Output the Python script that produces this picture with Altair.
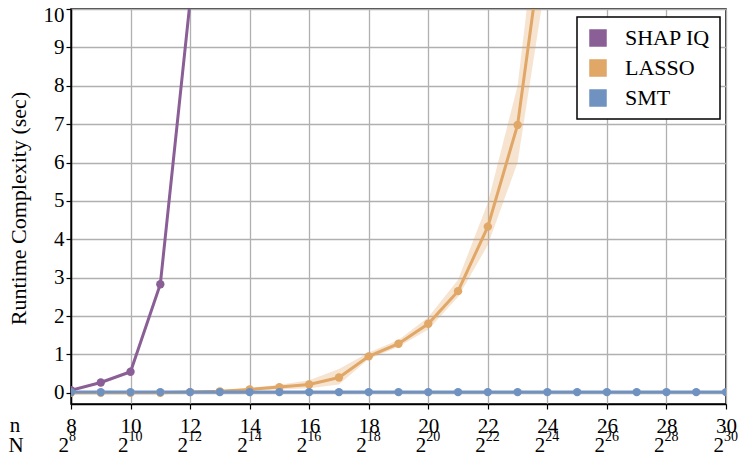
import altair as alt
import pandas as pd

# ---- data ----
n_vals = list(range(8, 31))
shap_n = [8, 9, 10, 11, 12]
shap_y = [0.07, 0.27, 0.55, 2.83, 10.2]
lasso_n = list(range(8, 25))
lasso_y = [0.0, 0.0, 0.0, 0.0, 0.02, 0.04, 0.09, 0.15, 0.22, 0.40, 0.95, 1.28, 1.80, 2.65, 4.33, 6.98, 12.7]
lasso_lo = [0.0, 0.0, 0.0, 0.0, 0.0, 0.02, 0.05, 0.09, 0.12, 0.22, 0.88, 1.20, 1.65, 2.50, 3.85, 6.00, 11.0]
lasso_hi = [0.0, 0.0, 0.0, 0.0, 0.04, 0.07, 0.13, 0.21, 0.33, 0.62, 1.05, 1.38, 1.97, 2.95, 4.95, 8.00, 14.5]
smt_y = [0.02] * len(n_vals)
tick_n = list(range(8, 31, 2))
series_names = ["SHAP IQ", "LASSO", "SMT"]
series_colors = ["#8A5F96", "#E0A767", "#7092C1"]

FONT = "Liberation Serif"
FS = 21

rows = []
for n, y in zip(shap_n, shap_y):
    rows.append({"n": n, "y": y, "method": "SHAP IQ"})
for n, y in zip(lasso_n, lasso_y):
    rows.append({"n": n, "y": y, "method": "LASSO"})
for n, y in zip(n_vals, smt_y):
    rows.append({"n": n, "y": y, "method": "SMT"})
df = pd.DataFrame(rows)
band = pd.DataFrame({"n": lasso_n, "y": lasso_lo, "hi": lasso_hi})
ticks = pd.DataFrame({"n": tick_n, "base": ["2"] * len(tick_n), "exp": [str(t) for t in tick_n]})

xscale = alt.Scale(domain=[8, 30], nice=False, zero=False)
yscale = alt.Scale(domain=[-0.29, 10], nice=False, zero=False)
x_axis = alt.Axis(values=tick_n, title=None, labelFont=FONT, labelFontSize=FS,
                  labelColor="black", domainColor="black", domainWidth=1.5,
                  tickColor="black", tickSize=5, tickWidth=1.2, labelPadding=6,
                  gridColor="#b0b0b0", gridWidth=1.3, labelFlush=False)
y_axis = alt.Axis(values=list(range(0, 11)), title="Runtime Complexity (sec)",
                  titleFont=FONT, titleFontSize=22, titleFontWeight="normal",
                  titleColor="black", titleX=-53, titleY=199, titleAlign="center",
                  titleBaseline="middle", titleAngle=270,
                  labelFont=FONT, labelFontSize=FS, labelColor="black",
                  labelFlush=True, labelFlushOffset=5,
                  domainColor="black", domainWidth=1.5, tickColor="black",
                  tickSize=5, tickWidth=1.2, gridColor="#b0b0b0", gridWidth=1.3)
X = alt.X("n:Q", scale=xscale, axis=x_axis)
Y = alt.Y("y:Q", scale=yscale, axis=y_axis)

cscale = alt.Scale(domain=series_names, range=series_colors)
color = alt.Color("method:N", scale=cscale, sort=series_names,
                  legend=alt.Legend(title=None, orient="none", legendX=506, legendY=8,
                                    symbolType="square", symbolSize=256, symbolStrokeColor="black",
                                    symbolStrokeWidth=1.5, symbolOpacity=1,
                                    labelFont=FONT, labelFontSize=22, labelColor="black",
                                    rowPadding=8, padding=10, strokeColor="black",
                                    fillColor="white", cornerRadius=0, labelOffset=16))

band_layer = alt.Chart(band).mark_area(color="#E0A767", opacity=0.3, clip=True).encode(
    x=X, y=Y, y2="hi:Q")

lines = alt.Chart(df).mark_line(strokeWidth=3, clip=True).encode(
    x=X, y=Y, color=color, order=alt.Order("n:Q"))
points = alt.Chart(df).mark_circle(size=70, opacity=1, clip=True).encode(
    x=X, y=Y, color=alt.Color("method:N", scale=cscale, sort=series_names, legend=None))

base2 = alt.Chart(ticks).mark_text(font=FONT, fontSize=FS, baseline="alphabetic", align="right",
                                   dx=-2, color="black").encode(
    x=X, y=alt.value(443), text="base:N")
exp2 = alt.Chart(ticks).mark_text(font=FONT, fontSize=14, baseline="alphabetic", align="left",
                                  dx=-2, color="black").encode(
    x=X, y=alt.value(432), text="exp:N")
row_n = alt.Chart(pd.DataFrame({"t": ["n"]})).mark_text(font=FONT, fontSize=FS, baseline="alphabetic",
                                                        align="center", color="black").encode(
    x=alt.value(-56), y=alt.value(423), text="t:N")
row_N = alt.Chart(pd.DataFrame({"t": ["N"]})).mark_text(font=FONT, fontSize=FS, baseline="alphabetic",
                                                        align="center", color="black").encode(
    x=alt.value(-55), y=alt.value(443), text="t:N")

chart = alt.layer(band_layer, lines, points, base2, exp2, row_n, row_N).properties(
    width=655, height=395,
    autosize=alt.AutoSizeParams(type="none"),
    padding={"left": 63, "top": 1, "right": 13, "bottom": 50},
).configure_view(stroke="black", strokeWidth=1.5).configure_legend(strokeWidth=1.5)

chart.save("out.html", embed_options={"renderer": "svg", "actions": False})
